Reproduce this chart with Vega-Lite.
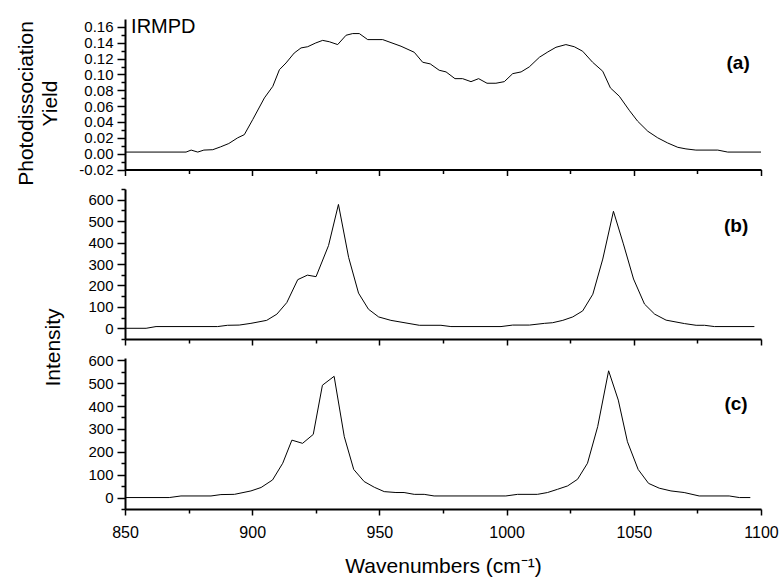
{
  "$schema": "https://vega.github.io/schema/vega-lite/v6.json",
  "background": "white",
  "padding": {"left": 14, "top": 16, "right": 5, "bottom": 5},
  "bounds": "flush",
  "spacing": 19,
  "config": {
    "view": {"stroke": null},
    "font": "Liberation Sans",
    "axis": {
      "grid": false,
      "domainColor": "black",
      "domainWidth": 2,
      "tickColor": "black",
      "tickWidth": 1.5,
      "labelColor": "black",
      "titleColor": "black",
      "labelFont": "Liberation Sans",
      "titleFont": "Liberation Sans",
      "labelFontSize": 15,
      "titleFontSize": 21,
      "titleFontWeight": "normal",
      "labelOverlap": false,
      "labelBound": false,
      "labelFlush": false
    }
  },
  "datasets": {
    "a": [
      {"wavenumber": 850, "yield": 0.002},
      {"wavenumber": 874, "yield": 0.002},
      {"wavenumber": 876, "yield": 0.0045},
      {"wavenumber": 878.6, "yield": 0.002},
      {"wavenumber": 881, "yield": 0.0045},
      {"wavenumber": 884.5, "yield": 0.005},
      {"wavenumber": 887.5, "yield": 0.0085},
      {"wavenumber": 890.8, "yield": 0.0128},
      {"wavenumber": 894.3, "yield": 0.02},
      {"wavenumber": 896.9, "yield": 0.024},
      {"wavenumber": 900.2, "yield": 0.043},
      {"wavenumber": 904.8, "yield": 0.0704},
      {"wavenumber": 908.1, "yield": 0.085},
      {"wavenumber": 910.7, "yield": 0.106},
      {"wavenumber": 913.3, "yield": 0.1145},
      {"wavenumber": 916.5, "yield": 0.127},
      {"wavenumber": 919.2, "yield": 0.1335},
      {"wavenumber": 921.8, "yield": 0.135},
      {"wavenumber": 925, "yield": 0.1398},
      {"wavenumber": 927.7, "yield": 0.143},
      {"wavenumber": 930.3, "yield": 0.1413},
      {"wavenumber": 933.6, "yield": 0.1377},
      {"wavenumber": 936.9, "yield": 0.1495},
      {"wavenumber": 939.5, "yield": 0.1516},
      {"wavenumber": 942.1, "yield": 0.1516},
      {"wavenumber": 945.4, "yield": 0.144},
      {"wavenumber": 951.3, "yield": 0.144},
      {"wavenumber": 958.5, "yield": 0.1356},
      {"wavenumber": 963.7, "yield": 0.128},
      {"wavenumber": 967.0, "yield": 0.1154},
      {"wavenumber": 970.0, "yield": 0.1133},
      {"wavenumber": 973.5, "yield": 0.1053},
      {"wavenumber": 976.2, "yield": 0.1032},
      {"wavenumber": 979.7, "yield": 0.0947},
      {"wavenumber": 982.7, "yield": 0.0947},
      {"wavenumber": 986.0, "yield": 0.0909},
      {"wavenumber": 989.0, "yield": 0.0947},
      {"wavenumber": 992.3, "yield": 0.0889},
      {"wavenumber": 995.8, "yield": 0.0889},
      {"wavenumber": 999.1, "yield": 0.0909},
      {"wavenumber": 1002.4, "yield": 0.101},
      {"wavenumber": 1005.7, "yield": 0.1032},
      {"wavenumber": 1008.9, "yield": 0.1095},
      {"wavenumber": 1012.9, "yield": 0.1217},
      {"wavenumber": 1016.2, "yield": 0.1284},
      {"wavenumber": 1019.4, "yield": 0.1343},
      {"wavenumber": 1023.3, "yield": 0.1377},
      {"wavenumber": 1026.6, "yield": 0.135},
      {"wavenumber": 1029.9, "yield": 0.1293},
      {"wavenumber": 1033.8, "yield": 0.1154},
      {"wavenumber": 1037.8, "yield": 0.104},
      {"wavenumber": 1040.8, "yield": 0.083},
      {"wavenumber": 1044.3, "yield": 0.0725},
      {"wavenumber": 1048.2, "yield": 0.0548},
      {"wavenumber": 1051.5, "yield": 0.041},
      {"wavenumber": 1055.5, "yield": 0.0283},
      {"wavenumber": 1059.4, "yield": 0.02},
      {"wavenumber": 1063.3, "yield": 0.0135},
      {"wavenumber": 1067.3, "yield": 0.008},
      {"wavenumber": 1070.5, "yield": 0.006},
      {"wavenumber": 1074.4, "yield": 0.0045},
      {"wavenumber": 1083.0, "yield": 0.0045},
      {"wavenumber": 1086.9, "yield": 0.002},
      {"wavenumber": 1100, "yield": 0.002}
    ],
    "b": [
      {"wavenumber": 850, "intensity": 0},
      {"wavenumber": 858.3, "intensity": 0},
      {"wavenumber": 862.2, "intensity": 8},
      {"wavenumber": 886.4, "intensity": 8},
      {"wavenumber": 890.3, "intensity": 14},
      {"wavenumber": 894.9, "intensity": 15},
      {"wavenumber": 899.5, "intensity": 23},
      {"wavenumber": 905.7, "intensity": 37},
      {"wavenumber": 909.7, "intensity": 66},
      {"wavenumber": 913.6, "intensity": 120},
      {"wavenumber": 917.9, "intensity": 227},
      {"wavenumber": 921.7, "intensity": 248},
      {"wavenumber": 925.1, "intensity": 241},
      {"wavenumber": 930, "intensity": 386},
      {"wavenumber": 933.9, "intensity": 578},
      {"wavenumber": 937.9, "intensity": 331},
      {"wavenumber": 941.8, "intensity": 164},
      {"wavenumber": 945.7, "intensity": 89},
      {"wavenumber": 949.7, "intensity": 53},
      {"wavenumber": 954.5, "intensity": 37},
      {"wavenumber": 965.7, "intensity": 14},
      {"wavenumber": 974.2, "intensity": 14},
      {"wavenumber": 978.1, "intensity": 8},
      {"wavenumber": 997.8, "intensity": 8},
      {"wavenumber": 1002.4, "intensity": 15},
      {"wavenumber": 1009, "intensity": 15},
      {"wavenumber": 1014.9, "intensity": 23},
      {"wavenumber": 1018.1, "intensity": 26},
      {"wavenumber": 1022.1, "intensity": 37},
      {"wavenumber": 1026, "intensity": 53},
      {"wavenumber": 1029.9, "intensity": 81},
      {"wavenumber": 1033.9, "intensity": 159},
      {"wavenumber": 1037.8, "intensity": 323},
      {"wavenumber": 1042, "intensity": 546},
      {"wavenumber": 1045.9, "intensity": 394},
      {"wavenumber": 1049.9, "intensity": 230},
      {"wavenumber": 1054.2, "intensity": 113},
      {"wavenumber": 1058.2, "intensity": 66},
      {"wavenumber": 1062.7, "intensity": 38},
      {"wavenumber": 1069.9, "intensity": 22},
      {"wavenumber": 1074.5, "intensity": 14},
      {"wavenumber": 1077.8, "intensity": 14},
      {"wavenumber": 1081.7, "intensity": 8},
      {"wavenumber": 1097.4, "intensity": 8}
    ],
    "c": [
      {"wavenumber": 850, "intensity": 0},
      {"wavenumber": 867.4, "intensity": 0},
      {"wavenumber": 872, "intensity": 7},
      {"wavenumber": 883.8, "intensity": 7},
      {"wavenumber": 887.7, "intensity": 13},
      {"wavenumber": 893, "intensity": 14},
      {"wavenumber": 899.5, "intensity": 29},
      {"wavenumber": 903.5, "intensity": 44},
      {"wavenumber": 908, "intensity": 77},
      {"wavenumber": 912, "intensity": 150},
      {"wavenumber": 915.6, "intensity": 251},
      {"wavenumber": 919.8, "intensity": 237},
      {"wavenumber": 924, "intensity": 276},
      {"wavenumber": 927.6, "intensity": 491},
      {"wavenumber": 932.2, "intensity": 530},
      {"wavenumber": 936.2, "intensity": 266},
      {"wavenumber": 939.9, "intensity": 123},
      {"wavenumber": 944, "intensity": 70},
      {"wavenumber": 948, "intensity": 45},
      {"wavenumber": 951.9, "intensity": 26},
      {"wavenumber": 956.5, "intensity": 22},
      {"wavenumber": 959.7, "intensity": 22},
      {"wavenumber": 963.7, "intensity": 14},
      {"wavenumber": 967.6, "intensity": 14},
      {"wavenumber": 971.5, "intensity": 7},
      {"wavenumber": 999.7, "intensity": 7},
      {"wavenumber": 1004.3, "intensity": 14},
      {"wavenumber": 1012.1, "intensity": 14},
      {"wavenumber": 1016.1, "intensity": 22},
      {"wavenumber": 1020, "intensity": 36},
      {"wavenumber": 1024, "intensity": 51},
      {"wavenumber": 1027.9, "intensity": 80},
      {"wavenumber": 1031.8, "intensity": 150},
      {"wavenumber": 1035.8, "intensity": 310},
      {"wavenumber": 1040.1, "intensity": 554},
      {"wavenumber": 1043.9, "intensity": 426},
      {"wavenumber": 1047.5, "intensity": 244},
      {"wavenumber": 1051.7, "intensity": 123},
      {"wavenumber": 1055.8, "intensity": 62},
      {"wavenumber": 1060, "intensity": 41},
      {"wavenumber": 1064.6, "intensity": 29},
      {"wavenumber": 1069.8, "intensity": 22},
      {"wavenumber": 1075.7, "intensity": 7},
      {"wavenumber": 1087.5, "intensity": 7},
      {"wavenumber": 1091.5, "intensity": 0},
      {"wavenumber": 1095.8, "intensity": 0}
    ],
    "a_labels": [
      {"x": 852.4, "y": 0.1524, "label": "IRMPD"}
    ],
    "a_tag": [
      {"x": 1091, "y": 0.114, "label": "(a)"}
    ],
    "b_tag": [
      {"x": 1090.2, "y": 477, "label": "(b)"}
    ],
    "c_tag": [
      {"x": 1090.2, "y": 410, "label": "(c)"}
    ]
  },
  "vconcat": [
    {
      "width": 636,
      "height": 150.5,
      "layer": [
        {
          "data": {"name": "a"},
          "mark": {"type": "line", "color": "black", "strokeWidth": 1},
          "encoding": {
            "x": {
              "field": "wavenumber", "type": "quantitative",
              "scale": {"domain": [850, 1100], "nice": false, "zero": false},
              "axis": {
                "values": [850, 875, 900, 925, 950, 975, 1000, 1025, 1050, 1075, 1100],
                "tickCount": 11,
                "labels": false, "title": null,
                "tickSize": {"condition": {"test": "datum.value % 50 === 0", "value": 6}, "value": 4}
              }
            },
            "y": {
              "field": "yield", "type": "quantitative",
              "scale": {"domain": [-0.02, 0.17], "nice": false, "zero": false},
              "axis": {
                "values": [-0.02, -0.01, 0, 0.01, 0.02, 0.03, 0.04, 0.05, 0.06, 0.07, 0.08, 0.09, 0.1, 0.11, 0.12, 0.13, 0.14, 0.15, 0.16],
                "labelOverlap": false,
                "tickCount": 19,
                "labelExpr": "abs(round(datum.value*100)) % 2 === 0 ? replace(format(datum.value, '.2f'), '\u2212', '-') : ''",
                "tickSize": {"condition": {"test": "abs(round(datum.value*100)) % 2 === 0", "value": 8}, "value": 4},
                "labelPadding": 4,
                "title": ["Photodissociation", "Yield"],
                "titleX": -93,
                "titleY": 84,
                "titleBaseline": "alphabetic",
                "titleLineHeight": 24
              }
            }
          }
        },
        {
          "data": {"name": "a_labels"},
          "mark": {"type": "text", "align": "left", "baseline": "alphabetic", "fontSize": 20, "font": "Liberation Sans", "color": "black"},
          "encoding": {
            "x": {"field": "x", "type": "quantitative"},
            "y": {"field": "y", "type": "quantitative"},
            "text": {"field": "label"}
          }
        },
        {
          "data": {"name": "a_tag"},
          "mark": {"type": "text", "align": "center", "baseline": "middle", "fontSize": 19, "fontWeight": "bold", "font": "Liberation Sans", "color": "black"},
          "encoding": {
            "x": {"field": "x", "type": "quantitative"},
            "y": {"field": "y", "type": "quantitative"},
            "text": {"field": "label"}
          }
        }
      ]
    },
    {
      "width": 636,
      "height": 150,
      "layer": [
        {
          "data": {"name": "b"},
          "mark": {"type": "line", "color": "black", "strokeWidth": 1},
          "encoding": {
            "x": {
              "field": "wavenumber", "type": "quantitative",
              "scale": {"domain": [850, 1100], "nice": false, "zero": false},
              "axis": {
                "values": [850, 875, 900, 925, 950, 975, 1000, 1025, 1050, 1075, 1100],
                "tickCount": 11,
                "labels": false, "title": null,
                "tickSize": {"condition": {"test": "datum.value % 50 === 0", "value": 6}, "value": 4}
              }
            },
            "y": {
              "field": "intensity", "type": "quantitative",
              "scale": {"domain": [-50, 650], "nice": false, "zero": false},
              "axis": {
                "values": [-50, 0, 50, 100, 150, 200, 250, 300, 350, 400, 450, 500, 550, 600, 650],
                "labelOverlap": false,
                "tickCount": 15,
                "format": "d",
                "labelExpr": "datum.value % 100 === 0 && datum.value >= 0 && datum.value <= 600 ? datum.label : ''",
                "tickSize": {"condition": {"test": "datum.value % 100 === 0", "value": 8}, "value": 4},
                "labelPadding": 4,
                "title": "Intensity",
                "titleX": -66,
                "titleY": 158,
                "titleBaseline": "alphabetic"
              }
            }
          }
        },
        {
          "data": {"name": "b_tag"},
          "mark": {"type": "text", "align": "center", "baseline": "middle", "fontSize": 19, "fontWeight": "bold", "font": "Liberation Sans", "color": "black"},
          "encoding": {
            "x": {"field": "x", "type": "quantitative"},
            "y": {"field": "y", "type": "quantitative"},
            "text": {"field": "label"}
          }
        }
      ]
    },
    {
      "width": 636,
      "height": 151,
      "layer": [
        {
          "data": {"name": "c"},
          "mark": {"type": "line", "color": "black", "strokeWidth": 1},
          "encoding": {
            "x": {
              "field": "wavenumber", "type": "quantitative",
              "scale": {"domain": [850, 1100], "nice": false, "zero": false},
              "axis": {
                "values": [850, 875, 900, 925, 950, 975, 1000, 1025, 1050, 1075, 1100],
                "tickCount": 11,
                "format": "d",
                "labelExpr": "datum.value % 50 === 0 ? datum.label : ''",
                "labelFontSize": 16,
                "labelPadding": 9,
                "tickSize": {"condition": {"test": "datum.value % 50 === 0", "value": 6}, "value": 4},
                "title": "Wavenumbers (cm\u207b\u00b9)",
                "titleFontSize": 21,
                "titlePadding": 15
              }
            },
            "y": {
              "field": "intensity", "type": "quantitative",
              "scale": {"domain": [-50, 610], "nice": false, "zero": false},
              "axis": {
                "values": [-50, 0, 50, 100, 150, 200, 250, 300, 350, 400, 450, 500, 550, 600],
                "labelOverlap": false,
                "tickCount": 14,
                "format": "d",
                "labelExpr": "datum.value % 100 === 0 && datum.value >= 0 ? datum.label : ''",
                "tickSize": {"condition": {"test": "datum.value % 100 === 0", "value": 8}, "value": 4},
                "labelPadding": 4,
                "title": null
              }
            }
          }
        },
        {
          "data": {"name": "c_tag"},
          "mark": {"type": "text", "align": "center", "baseline": "middle", "fontSize": 19, "fontWeight": "bold", "font": "Liberation Sans", "color": "black"},
          "encoding": {
            "x": {"field": "x", "type": "quantitative"},
            "y": {"field": "y", "type": "quantitative"},
            "text": {"field": "label"}
          }
        }
      ]
    }
  ]
}
